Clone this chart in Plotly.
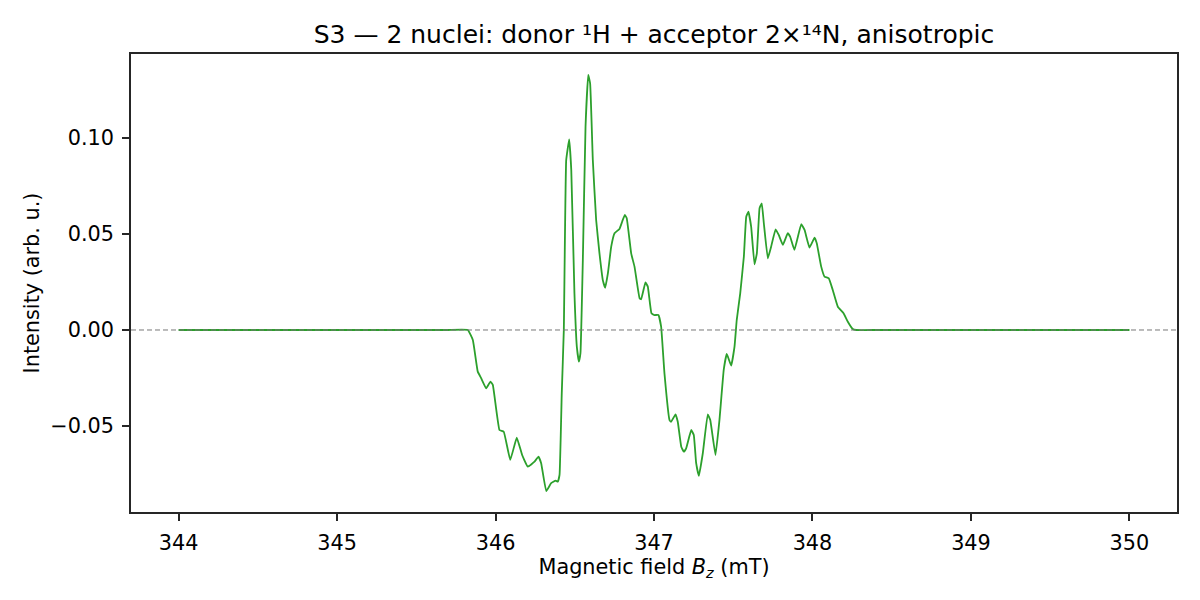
import plotly.graph_objects as go

# spectrum (field in mT, intensity arb. u.)
field = [344.0, 344.5, 345.0, 345.5, 345.7, 345.825, 345.857, 345.888, 345.910,
         345.941, 345.968, 345.983,
         346.025, 346.052, 346.093, 346.134, 346.168, 346.204, 346.246, 346.271,
         346.288, 346.320, 346.351, 346.379, 346.393, 346.404, 346.418, 346.431,
         346.446, 346.465, 346.478, 346.498, 346.513, 346.526, 346.536, 346.551,
         346.568, 346.585, 346.597, 346.614, 346.635, 346.656, 346.677, 346.692,
         346.709, 346.730, 346.751, 346.782, 346.799, 346.816, 346.828, 346.856,
         346.877, 346.909, 346.919, 346.946, 346.961, 346.984, 347.003, 347.028,
         347.045, 347.066, 347.098, 347.108, 347.136, 347.150, 347.172, 347.188,
         347.203, 347.235, 347.251, 347.266, 347.283, 347.308, 347.339, 347.355,
         347.388, 347.413, 347.440, 347.459, 347.487, 347.508, 347.522, 347.544,
         347.567, 347.582, 347.596, 347.613, 347.634, 347.649, 347.666, 347.680,
         347.693, 347.718, 347.739, 347.767, 347.787, 347.813, 347.844, 347.859,
         347.886, 347.929, 347.950, 347.981, 348.013, 348.027, 348.055, 348.076,
         348.103, 348.128, 348.160, 348.196, 348.223, 348.254, 348.276, 348.4,
         348.6, 349.0, 349.5, 350.0]

intensity = [0.0, 0.0, 0.0, 0.0, 0.0, 0.0, -0.0052, -0.0217, -0.0252,
             -0.0304, -0.0269, -0.0286,
             -0.0521, -0.0530, -0.0677, -0.0561, -0.0651, -0.0712, -0.0686, -0.0660,
             -0.0694, -0.0839, -0.0798, -0.0785, -0.0790, -0.0755, -0.0330, 0.0,
             0.0885, 0.0993, 0.0833, 0.0191, -0.0087, -0.0165, -0.0121, 0.0365,
             0.1059, 0.1328, 0.1285, 0.0885, 0.0573, 0.0399, 0.0260, 0.0220,
             0.0295, 0.0434, 0.0504, 0.0526, 0.0564, 0.0599, 0.0582, 0.0399,
             0.0330, 0.0165, 0.0160, 0.0248, 0.0226, 0.0087, 0.0078, 0.0078,
             0.0017, -0.0226, -0.0469, -0.0478, -0.0439, -0.0478, -0.0608, -0.0634,
             -0.0616, -0.0521, -0.0547, -0.0694, -0.0760, -0.0642, -0.0439, -0.0469,
             -0.0651, -0.0469, -0.0208, -0.0125, -0.0186, -0.0087, 0.0052, 0.0191,
             0.0382, 0.0590, 0.0616, 0.0538, 0.0342, 0.0399, 0.0634, 0.0660,
             0.0556, 0.0373, 0.0434, 0.0524, 0.0495, 0.0443, 0.0504, 0.0486,
             0.0417, 0.0551, 0.0521, 0.0429, 0.0481, 0.0452, 0.0330, 0.0278,
             0.0269, 0.0208, 0.0121, 0.0087, 0.0043, 0.0005, 0.0, 0.0,
             0.0, 0.0, 0.0, 0.0]

x_ticks = [344, 345, 346, 347, 348, 349, 350]
y_ticks = [-0.05, 0.0, 0.05, 0.10]
y_labels = ['\u22120.05', '0.00', '0.05', '0.10']

font = 'DejaVu Sans'

fig = go.Figure()
fig.add_trace(go.Scatter(x=field, y=intensity, mode='lines',
                         line=dict(color='#2ca02c', width=1.8,
                                   shape='spline', smoothing=0.3),
                         showlegend=False, hoverinfo='skip'))

# zero line
fig.add_hline(y=0, line=dict(color='#777777', width=1, dash='5px,3px'))

axis_common = dict(showgrid=False, zeroline=False, showline=True, mirror=True,
                   automargin=False,
                   linecolor='#262626', linewidth=1.6, ticks='outside',
                   ticklen=7, tickwidth=1.6, tickcolor='#262626',
                   ticklabelstandoff=4,
                   tickfont=dict(family=font, size=20.8, color='black'))

fig.update_xaxes(range=[343.7, 350.3], tickvals=x_ticks,
                 title=dict(text='Magnetic field <i>B<sub>z</sub></i> (mT)',
                            font=dict(family=font, size=20.8, color='black'),
                            standoff=3),
                 **axis_common)
fig.update_yaxes(range=[-0.0948, 0.14375], tickvals=y_ticks, ticktext=y_labels,
                 title=dict(text='Intensity (arb. u.)',
                            font=dict(family=font, size=20.8, color='black'),
                            standoff=5),
                 **axis_common)

# the page puts the figure 8px in from the top-left, margins allow for it
fig.update_layout(
    width=1200, height=600,
    paper_bgcolor='white', plot_bgcolor='white',
    margin=dict(l=123, r=31, t=46, b=96),
    title=dict(text='S3 \u2014 2 nuclei: donor \u00b9H + acceptor 2\u00d7\u00b9\u2074N, anisotropic',
               x=0.5, xref='paper', xanchor='center',
               y=1, yref='paper', yanchor='bottom', pad=dict(b=11),
               font=dict(family=font, size=25, color='black')),
)

fig.write_html("out.html")
